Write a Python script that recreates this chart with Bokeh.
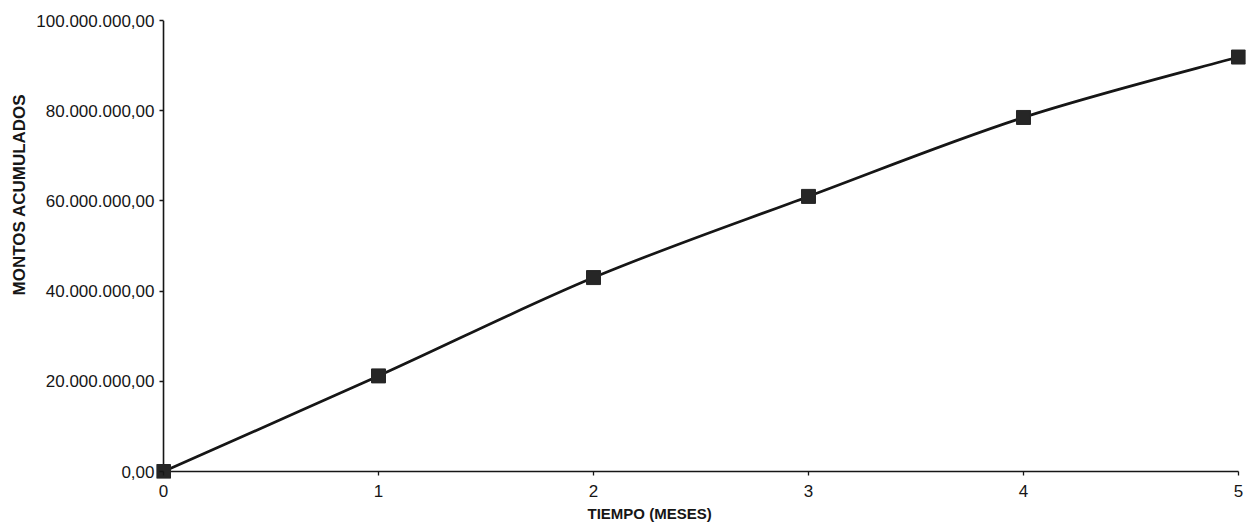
from bokeh.plotting import figure
from bokeh.models import FixedTicker, Range1d, Title
from bokeh.embed import file_html
from bokeh.resources import INLINE

# ---- data ----
meses = [0, 1, 2, 3, 4, 5]
montos = [0, 21_200_000, 43_000_000, 61_000_000, 78_500_000, 91_900_000]
y_ticks = [0, 20_000_000, 40_000_000, 60_000_000, 80_000_000, 100_000_000]
y_tick_labels = ["0,00", "20.000.000,00", "40.000.000,00", "60.000.000,00",
                 "80.000.000,00", "100.000.000,00"]
x_ticks = [0, 1, 2, 3, 4, 5]
x_tick_labels = ["0", "1", "2", "3", "4", "5"]
x_title = "TIEMPO (MESES)"
y_title = "MONTOS ACUMULADOS"

FONT = "Liberation Sans"
INK = "#161616"

p = figure(width=1257, height=526, output_backend="svg", toolbar_location=None,
           x_range=Range1d(-0.0326, 5.0326), y_range=Range1d(-1.55e6, 100e6),
           min_border_left=156, min_border_right=12, min_border_top=20,
           min_border_bottom=48)
p.outline_line_color = None
p.xgrid.visible = False
p.ygrid.visible = False
p.background_fill_color = "white"
p.border_fill_color = "white"

# axis lines at the origin (from the tick extents)
p.segment(x0=[x_ticks[0], x_ticks[0]], y0=[y_ticks[0], y_ticks[0]],
          x1=[x_ticks[-1], x_ticks[0]], y1=[y_ticks[0], y_ticks[-1]],
          line_color=INK, line_width=1.6)

# smoothed line (Catmull-Rom -> cubic Bezier) through the data points
n = len(meses)
x0, y0, x1, y1, cx0, cy0, cx1, cy1 = [], [], [], [], [], [], [], []
for i in range(n - 1):
    xm, ym = (meses[i - 1], montos[i - 1]) if i > 0 else (meses[i], montos[i])
    xa, ya = meses[i], montos[i]
    xb, yb = meses[i + 1], montos[i + 1]
    xp, yp = (meses[i + 2], montos[i + 2]) if i + 2 < n else (xb, yb)
    x0.append(xa); y0.append(ya); x1.append(xb); y1.append(yb)
    cx0.append(xa + (xb - xm) / 6); cy0.append(ya + (yb - ym) / 6)
    cx1.append(xb - (xp - xa) / 6); cy1.append(yb - (yp - ya) / 6)
p.bezier(x0=x0, y0=y0, x1=x1, y1=y1, cx0=cx0, cy0=cy0, cx1=cx1, cy1=cy1,
         line_color=INK, line_width=2.7)
p.scatter(meses, montos, marker="square", size=14, fill_color="#262626",
          line_color="#262626")

for ax in (p.xaxis[0], p.yaxis[0]):
    ax.axis_line_color = None
    ax.major_tick_line_color = INK
    ax.major_tick_line_width = 1.3
    ax.major_tick_in = 7
    ax.major_tick_out = -3
    ax.minor_tick_line_color = None
    ax.major_label_text_font = FONT
    ax.major_label_text_font_size = "17px"
    ax.major_label_text_color = INK

p.xaxis.ticker = FixedTicker(ticks=x_ticks)
p.yaxis.ticker = FixedTicker(ticks=y_ticks)
p.xaxis.major_label_overrides = {t: s for t, s in zip(x_ticks, x_tick_labels)}
p.yaxis.major_label_overrides = {t: s for t, s in zip(y_ticks, y_tick_labels)}
p.xaxis.major_label_standoff = 6
p.yaxis.major_label_standoff = 2

p.add_layout(Title(text=x_title, align="left", offset=431, standoff=6,
                   text_font=FONT, text_font_size="15px", text_font_style="bold",
                   text_color=INK), "below")
p.add_layout(Title(text=y_title, align="left", offset=183, standoff=9,
                   text_font=FONT, text_font_size="17px", text_font_style="bold",
                   text_color=INK), "left")

open("out.html", "w").write(file_html(p, INLINE))
